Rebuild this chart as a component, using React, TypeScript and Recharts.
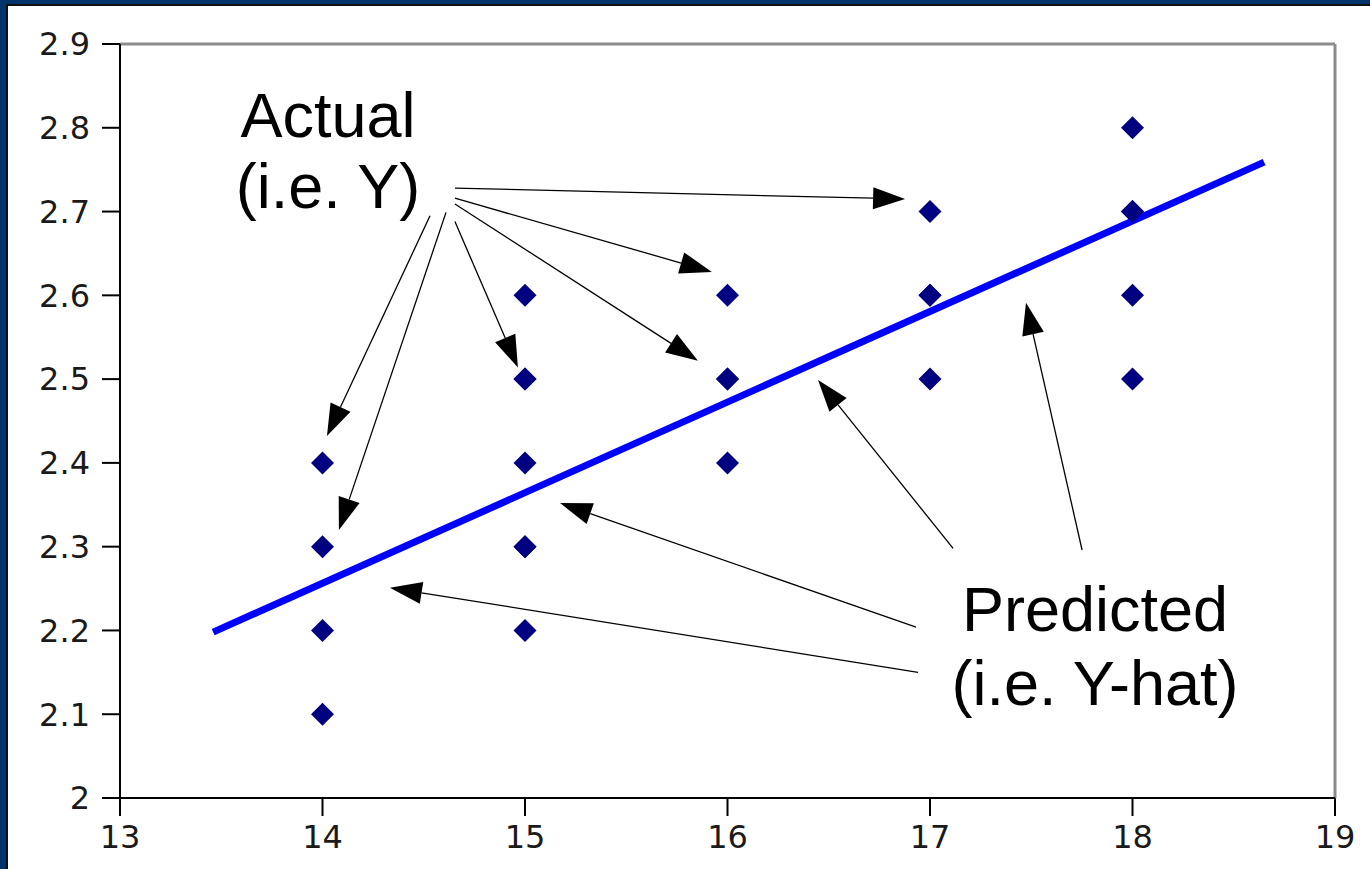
import React from 'react';
import { ScatterChart, Scatter, XAxis, YAxis, ReferenceLine, ReferenceDot } from 'recharts';

const xTicks = [13, 14, 15, 16, 17, 18, 19];
const yTicks = [2, 2.1, 2.2, 2.3, 2.4, 2.5, 2.6, 2.7, 2.8, 2.9];

// observed values (repeated pairs are drawn twice, on top of each other)
const observed = [
  { x: 14, y: 2.4 }, { x: 14, y: 2.3 }, { x: 14, y: 2.2 }, { x: 14, y: 2.1 },
  { x: 15, y: 2.6 }, { x: 15, y: 2.5 }, { x: 15, y: 2.5 }, { x: 15, y: 2.4 },
  { x: 15, y: 2.3 }, { x: 15, y: 2.3 }, { x: 15, y: 2.2 },
  { x: 16, y: 2.6 }, { x: 16, y: 2.5 }, { x: 16, y: 2.5 }, { x: 16, y: 2.4 },
  { x: 17, y: 2.7 }, { x: 17, y: 2.6 }, { x: 17, y: 2.6 }, { x: 17, y: 2.5 },
  { x: 18, y: 2.8 }, { x: 18, y: 2.7 }, { x: 18, y: 2.7 }, { x: 18, y: 2.6 }, { x: 18, y: 2.5 },
];

// fitted regression line end points
const fitted = [
  { x: 13.46, y: 2.198 },
  { x: 18.65, y: 2.759 },
];

// annotation arrows, [fromX, fromY, toX, toY] in data units
const actualArrows = [
  [14.654, 2.728, 16.877, 2.715],
  [14.654, 2.716, 15.923, 2.628],
  [14.654, 2.709, 15.854, 2.522],
  [14.654, 2.688, 14.965, 2.514],
  [14.531, 2.695, 14.022, 2.432],
  [14.61, 2.699, 14.081, 2.32],
];
const predictedArrows = [
  [17.751, 2.296, 17.474, 2.591],
  [17.114, 2.298, 16.447, 2.499],
  [16.931, 2.204, 15.173, 2.352],
  [16.941, 2.15, 14.333, 2.251],
];

const actualLabel = { x: 14.027, y: 2.789, lines: ['Actual', '(i.e. Y)'], gap: 71 };
const predictedLabel = { x: 17.815, y: 2.199, lines: ['Predicted', '(i.e. Y-hat)'], gap: 74 };

const tickFont = { fontFamily: 'DejaVu Sans', fontSize: 32, fill: '#1a1a1a' };

const Diamond = (p: any) => {
  const { cx, cy } = p;
  const s = 11.5;
  return (
    <polygon
      points={`${cx},${cy - s} ${cx + s},${cy} ${cx},${cy + s} ${cx - s},${cy}`}
      fill="#000080"
    />
  );
};

const NoDot = () => <g />;

const Arrow = (p: any) => {
  const { x1, y1, x2, y2 } = p;
  const dx = x2 - x1;
  const dy = y2 - y1;
  const len = Math.hypot(dx, dy) || 1;
  const ux = dx / len;
  const uy = dy / len;
  const head = 32;
  const half = 11;
  const bx = x2 - ux * head;
  const by = y2 - uy * head;
  return (
    <g>
      <line x1={x1} y1={y1} x2={bx} y2={by} stroke="#000" strokeWidth={1.3} />
      <polygon
        points={`${x2},${y2} ${bx - uy * half},${by + ux * half} ${bx + uy * half},${by - ux * half}`}
        fill="#000"
      />
    </g>
  );
};

const labelShape = (lines: string[], gap: number) => (p: any) => (
  <text
    x={p.cx}
    y={p.cy}
    textAnchor="middle"
    fontFamily="'Liberation Sans', Arial, sans-serif"
    fontSize={63}
    fill="#000"
  >
    {lines.map((t, i) => (
      <tspan key={t} x={p.cx} dy={i === 0 ? 0 : gap}>
        {t}
      </tspan>
    ))}
  </text>
);

export default function App() {
  const arrows = [...actualArrows, ...predictedArrows];
  return (
    <div style={{ position: 'fixed', left: 0, top: 0, width: 1370, height: 869, background: '#00346a' }}>
      <div
        style={{
          position: 'absolute',
          left: 6,
          top: 4,
          right: 0,
          bottom: 0,
          background: '#fff',
          borderLeft: '2px solid #111',
          borderTop: '2px solid #111',
        }}
      />
      <div style={{ position: 'absolute', left: 0, top: 0 }}>
        <ScatterChart width={1370} height={869} margin={{ top: 44, right: 35, bottom: 11, left: 20 }}>
          <XAxis
            type="number"
            dataKey="x"
            domain={[13, 19]}
            ticks={xTicks}
            interval={0}
            height={60}
            tickSize={18}
            tickMargin={9}
            tick={tickFont}
            axisLine={{ stroke: '#000', strokeWidth: 2 }}
            tickLine={{ stroke: '#000', strokeWidth: 2 }}
          />
          <YAxis
            type="number"
            dataKey="y"
            domain={[2, 2.9]}
            ticks={yTicks}
            interval={0}
            width={100}
            tickSize={18}
            tickMargin={12}
            tick={tickFont}
            axisLine={{ stroke: '#000', strokeWidth: 2 }}
            tickLine={{ stroke: '#000', strokeWidth: 2 }}
          />
          <ReferenceLine y={2.9} stroke="#8c8c8c" strokeWidth={3} />
          <ReferenceLine x={19} stroke="#8c8c8c" strokeWidth={3} />
          {arrows.map((a, i) => (
            <ReferenceLine
              key={`arrow-${i}`}
              segment={[{ x: a[0], y: a[1] }, { x: a[2], y: a[3] }]}
              shape={Arrow}
            />
          ))}
          <Scatter
            data={fitted}
            line={{ stroke: '#0000ff', strokeWidth: 7 }}
            shape={NoDot}
            isAnimationActive={false}
          />
          <Scatter data={observed} shape={Diamond} isAnimationActive={false} />
          <ReferenceDot
            x={actualLabel.x}
            y={actualLabel.y}
            r={0}
            shape={labelShape(actualLabel.lines, actualLabel.gap)}
          />
          <ReferenceDot
            x={predictedLabel.x}
            y={predictedLabel.y}
            r={0}
            shape={labelShape(predictedLabel.lines, predictedLabel.gap)}
          />
        </ScatterChart>
      </div>
    </div>
  );
}
